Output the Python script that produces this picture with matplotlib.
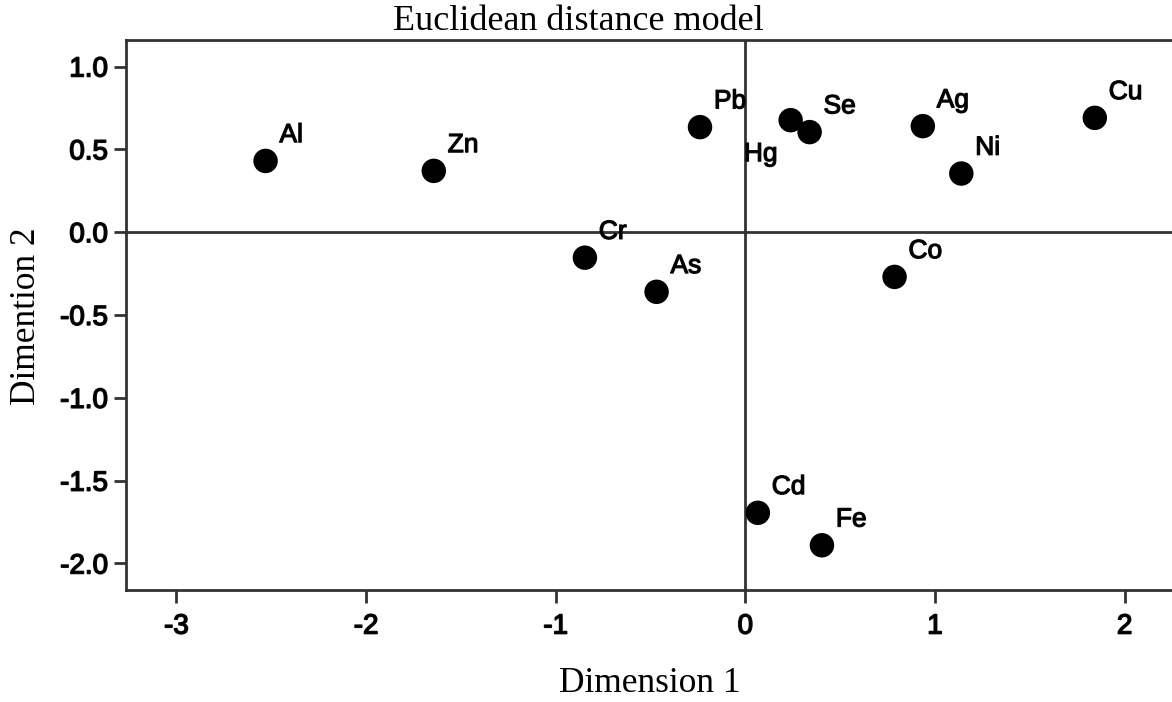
import numpy as np
import matplotlib.pyplot as plt
import matplotlib.patheffects as pe

# MDS-Koordinaten
elemente = ['Al', 'Zn', 'Cr', 'As', 'Pb', 'Hg', 'Se', 'Ag', 'Ni', 'Cu', 'Co', 'Cd', 'Fe']
dim1 = [-2.53, -1.643, -0.846, -0.468, -0.239, 0.239, 0.339, 0.936, 1.139, 1.843, 0.787, 0.066, 0.404]
dim2 = [0.430, 0.370, -0.154, -0.360, 0.634, 0.676, 0.604, 0.640, 0.354, 0.690, -0.270, -1.694, -1.890]

x_ticks = [-3, -2, -1, 0, 1, 2]
y_ticks = [1.0, 0.5, 0.0, -0.5, -1.0, -1.5, -2.0]

if __name__ == '__main__':
    fig = plt.figure(figsize=(11.72, 7.02), dpi=100)
    ax = fig.add_axes([126 / 1172, 1 - 590 / 702, 1 - 126 / 1172, 550 / 702])

    col = '#333333'
    dick = [pe.withStroke(linewidth=0.9, foreground='#111111')]

    ax.axhline(0, color=col, lw=2, zorder=1)
    ax.axvline(0, color=col, lw=2, zorder=1)
    ax.scatter(dim1, dim2, s=310, color='black', zorder=3, edgecolors='none')

    for name, x, y in zip(elemente, dim1, dim2):
        if name == 'Hg':
            t = ax.annotate(name, (x, y), xytext=(-9.5, -29.5), textcoords='offset points',
                            ha='right', va='baseline', fontsize=19, family='Liberation Sans')
        else:
            t = ax.annotate(name, (x, y), xytext=(10, 13.5), textcoords='offset points',
                            ha='left', va='baseline', fontsize=19, family='Liberation Sans')
        t.set_path_effects(dick)

    ax.set_xlim(-3.266, 2.25)
    ax.set_ylim(-2.16, 1.16)
    ax.set_xticks(x_ticks)
    ax.set_yticks(y_ticks)
    ax.set_xticklabels([str(t) for t in x_ticks])
    ax.set_yticklabels(['%.1f' % t for t in y_ticks])
    for lab in ax.get_xticklabels() + ax.get_yticklabels():
        lab.set_family('Liberation Sans')
        lab.set_fontsize(20)
        lab.set_path_effects([pe.withStroke(linewidth=1.1, foreground='#111111')])
    ax.tick_params(direction='out', length=9, width=2, color=col, pad=4)
    ax.tick_params(axis='x', pad=8)

    for side in ['left', 'bottom', 'top']:
        ax.spines[side].set_color(col)
        ax.spines[side].set_linewidth(2)
    ax.spines['right'].set_visible(False)

    fig.text(578 / 1172, 1 - 22 / 702, 'Euclidean distance model', ha='center', va='center',
             fontsize=26, family='Liberation Serif')
    fig.text(650 / 1172, 1 - 683 / 702, 'Dimension 1', ha='center', va='center',
             fontsize=25.5, family='Liberation Serif')
    fig.text(27 / 1172, 1 - 316 / 702, 'Dimention 2', ha='center', va='center',
             rotation=90, fontsize=25.5, family='Liberation Serif')

    fig.savefig('out.png', dpi=100)
